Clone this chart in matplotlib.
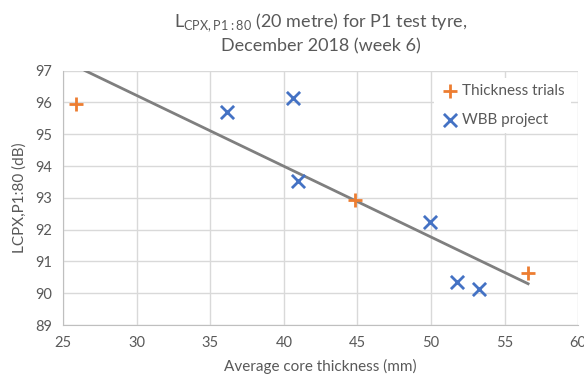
import matplotlib
matplotlib.use("Agg")
import matplotlib.pyplot as plt

# data
trials_x = [25.9, 44.85, 56.6]
trials_y = [95.95, 92.93, 90.65]
wbb_x = [36.15, 40.6, 40.97, 49.9, 51.8, 53.25]
wbb_y = [95.7, 96.15, 93.52, 92.23, 90.37, 90.12]
trend_x = [26.5, 56.6]
trend_y = [97.0, 90.3]
x_ticks = [25, 30, 35, 40, 45, 50, 55, 60]
y_ticks = [89, 90, 91, 92, 93, 94, 95, 96, 97]

text_col = "#595959"
plt.rcParams['font.family'] = ['Lato', 'DejaVu Sans']

fig = plt.figure(figsize=(5.84, 3.82), dpi=100)
ax = fig.add_axes([0.108, 0.149, 0.882, 0.666])

ax.plot(trend_x, trend_y, color="#7f7f7f", lw=2, zorder=2, clip_on=True)
ax.scatter(trials_x, trials_y, marker="+", s=90, color="#ED7D31", linewidths=2,
           label="Thickness trials", zorder=3)
ax.scatter(wbb_x, wbb_y, marker="x", s=90, color="#4472C4", linewidths=2,
           label="WBB project", zorder=3)

ax.set_xlim(25, 60)
ax.set_ylim(89, 97)
ax.set_xticks(x_ticks)
ax.set_yticks(y_ticks)
ax.grid(True, color="#d9d9d9", lw=1)
ax.set_axisbelow(True)
for s in ["top", "right"]:
    ax.spines[s].set_visible(False)
for s in ["left", "bottom"]:
    ax.spines[s].set_color("#bfbfbf")
ax.tick_params(length=0, labelsize=10.5, labelcolor=text_col, pad=8)

ax.set_xlabel("Average core thickness (mm)", fontsize=11, color=text_col, labelpad=6)
ax.set_ylabel("LCPX,P1:80 (dB)", fontsize=11, color=text_col, labelpad=6)
ax.set_title("L$_\\mathregular{CPX,P1{:}80}$ (20 metre) for P1 test tyre,\nDecember 2018 (week 6)",
             fontsize=13, color=text_col, pad=14, linespacing=1.3)

leg = ax.legend(loc="upper right", frameon=True, fontsize=11, handletextpad=0.2,
                borderaxespad=0.5, handlelength=1.2, labelspacing=0.95)
leg.get_frame().set_facecolor("white")
leg.get_frame().set_edgecolor("none")
leg.get_frame().set_alpha(1)
for t in leg.get_texts():
    t.set_color(text_col)

fig.savefig("out.png", dpi=100)
